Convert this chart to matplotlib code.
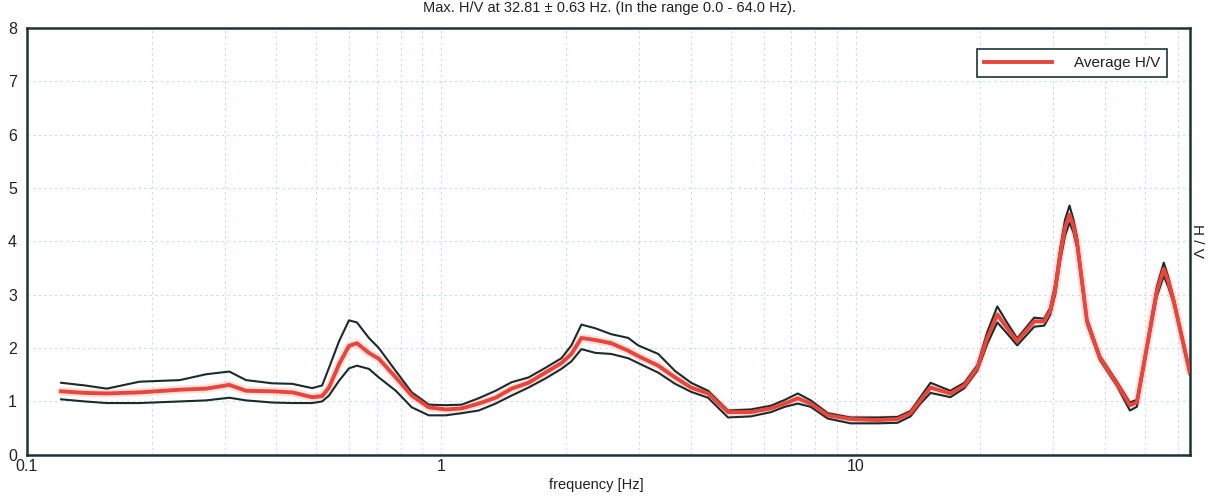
import matplotlib
matplotlib.use("Agg")
from matplotlib import pyplot as plt
from matplotlib.ticker import FixedLocator, LogLocator, NullFormatter

plt.rcParams['font.family'] = ['Liberation Sans', 'DejaVu Sans']

# H/V spectral ratio curve (average and +/- standard deviation)
freq = [0.121, 0.138, 0.156, 0.187, 0.234, 0.271, 0.308, 0.338, 0.391, 0.437,
        0.488, 0.516, 0.536, 0.567, 0.599, 0.626, 0.669, 0.707, 0.777, 0.849,
        0.933, 1.025, 1.12, 1.231, 1.353, 1.478, 1.624, 1.784, 1.95, 2.061,
        2.179, 2.355, 2.572, 2.826, 2.987, 3.339, 3.667, 4.009, 4.404, 4.92,
        5.587, 6.246, 6.748, 7.251, 7.79, 8.562, 9.72, 11.3, 12.62, 13.56,
        14.33, 15.16, 16.93, 18.3, 19.67, 20.78, 21.97, 23.22, 24.54, 26.97,
        28.5, 29.47, 30.3, 31.14, 32.0, 32.81, 33.5, 34.22, 36.17, 38.88,
        42.72, 45.9, 47.7, 50.4, 53.3, 55.4, 56.8, 58.6, 64.0]

hv_avg = [1.19, 1.16, 1.15, 1.17, 1.22, 1.24, 1.31, 1.20, 1.19, 1.17,
          1.08, 1.10, 1.26, 1.70, 2.04, 2.09, 1.91, 1.80, 1.45, 1.11,
          0.89, 0.85, 0.87, 0.96, 1.07, 1.24, 1.35, 1.54, 1.72, 1.89,
          2.19, 2.15, 2.09, 1.95, 1.85, 1.67, 1.45, 1.26, 1.15, 0.80,
          0.80, 0.87, 0.96, 1.06, 0.96, 0.74, 0.67, 0.65, 0.67, 0.78,
          1.02, 1.26, 1.15, 1.30, 1.63, 2.19, 2.63, 2.37, 2.13, 2.50,
          2.50, 2.69, 3.10, 3.74, 4.25, 4.50, 4.30, 3.98, 2.50, 1.81,
          1.33, 0.93, 0.98, 2.00, 3.06, 3.48, 3.25, 2.87, 1.55]

hv_upper = [1.35, 1.30, 1.24, 1.37, 1.40, 1.51, 1.56, 1.40, 1.34, 1.33,
            1.25, 1.30, 1.63, 2.13, 2.52, 2.48, 2.19, 2.00, 1.57, 1.17,
            0.94, 0.93, 0.94, 1.06, 1.20, 1.36, 1.45, 1.63, 1.81, 2.05,
            2.44, 2.37, 2.26, 2.19, 2.05, 1.89, 1.57, 1.35, 1.20, 0.83,
            0.85, 0.92, 1.03, 1.15, 1.02, 0.78, 0.70, 0.70, 0.71, 0.82,
            1.08, 1.35, 1.20, 1.35, 1.68, 2.30, 2.78, 2.47, 2.18, 2.57,
            2.55, 2.75, 3.20, 3.85, 4.40, 4.67, 4.42, 4.08, 2.55, 1.85,
            1.37, 0.98, 1.03, 2.05, 3.15, 3.60, 3.33, 2.92, 1.59]

hv_lower = [1.04, 1.00, 0.97, 0.97, 1.00, 1.02, 1.07, 1.02, 0.98, 0.97,
            0.97, 1.00, 1.11, 1.39, 1.62, 1.67, 1.61, 1.45, 1.20, 0.89,
            0.74, 0.74, 0.78, 0.83, 0.96, 1.11, 1.26, 1.43, 1.61, 1.75,
            1.98, 1.91, 1.89, 1.81, 1.72, 1.54, 1.33, 1.18, 1.07, 0.70,
            0.72, 0.80, 0.90, 0.96, 0.90, 0.68, 0.59, 0.59, 0.60, 0.72,
            0.96, 1.16, 1.08, 1.25, 1.58, 2.08, 2.48, 2.27, 2.05, 2.40,
            2.42, 2.62, 3.00, 3.62, 4.10, 4.35, 4.18, 3.88, 2.45, 1.77,
            1.29, 0.83, 0.90, 1.95, 2.97, 3.35, 3.15, 2.82, 1.51]

x_ticks = [0.1, 1, 10]
x_ticklabels = ['0.1', '1', '10']
y_ticks = [0, 1, 2, 3, 4, 5, 6, 7, 8]

fig = plt.figure(figsize=(12.19, 4.96), dpi=100)
ax = fig.add_axes([0.022, 0.083, 0.954, 0.861])

ax.set_xscale('log')
ax.set_xlim(0.1, 64.0)
ax.set_ylim(0, 8)

# soft glow under the average curve, then the curves themselves
ax.plot(freq, hv_avg, color='#f4a9a0', lw=6, alpha=0.35, solid_capstyle='round', zorder=2)
ax.plot(freq, hv_upper, color='#1b2b2b', lw=1.5, zorder=3)
ax.plot(freq, hv_lower, color='#1b2b2b', lw=1.5, zorder=3)
ax.plot(freq, hv_avg, color='#e8453c', lw=2.8, zorder=4, label='Average H/V')

ax.xaxis.set_major_locator(FixedLocator(x_ticks))
ax.set_xticklabels(x_ticklabels)
ax.xaxis.set_minor_locator(LogLocator(base=10, subs=range(2, 10), numticks=20))
ax.xaxis.set_minor_formatter(NullFormatter())
ax.set_yticks(y_ticks)

ax.grid(True, which='both', axis='x', color='#c3dcee', ls=(0, (2, 3)), lw=0.8)
ax.grid(True, which='major', axis='y', color='#c3dcee', ls=(0, (2, 3)), lw=0.8)
ax.set_axisbelow(True)

ax.tick_params(axis='both', which='both', length=0, labelsize=11.5, colors='#222222')
ax.tick_params(axis='x', pad=3)
ax.tick_params(axis='y', pad=7)

for side in ax.spines.values():
    side.set_color('#1d3436')
    side.set_linewidth(1.8)

ax.set_xlabel('frequency [Hz]', fontsize=10.5, color='#222222', va='center')
ax.xaxis.set_label_coords(0.49, -0.07)
ax.yaxis.set_label_position('right')
ax.set_ylabel('H / V', fontsize=11, rotation=270, color='#222222', labelpad=10)

leg = ax.legend(loc='upper right', bbox_to_anchor=(0.987, 0.968), fancybox=False,
                framealpha=1, edgecolor='#1d3436', fontsize=11, handlelength=4.5,
                borderpad=0.45, handletextpad=1.4)
leg.get_frame().set_linewidth(1.2)
for t in leg.get_texts():
    t.set_color('#222222')

fig.text(0.5, 0.997, 'Max. H/V at 32.81 \u00b1 0.63 Hz. (In the range 0.0 - 64.0 Hz).',
         ha='center', va='top', fontsize=10.5, color='#222222')

fig.savefig('out.png', dpi=100, facecolor='white')
